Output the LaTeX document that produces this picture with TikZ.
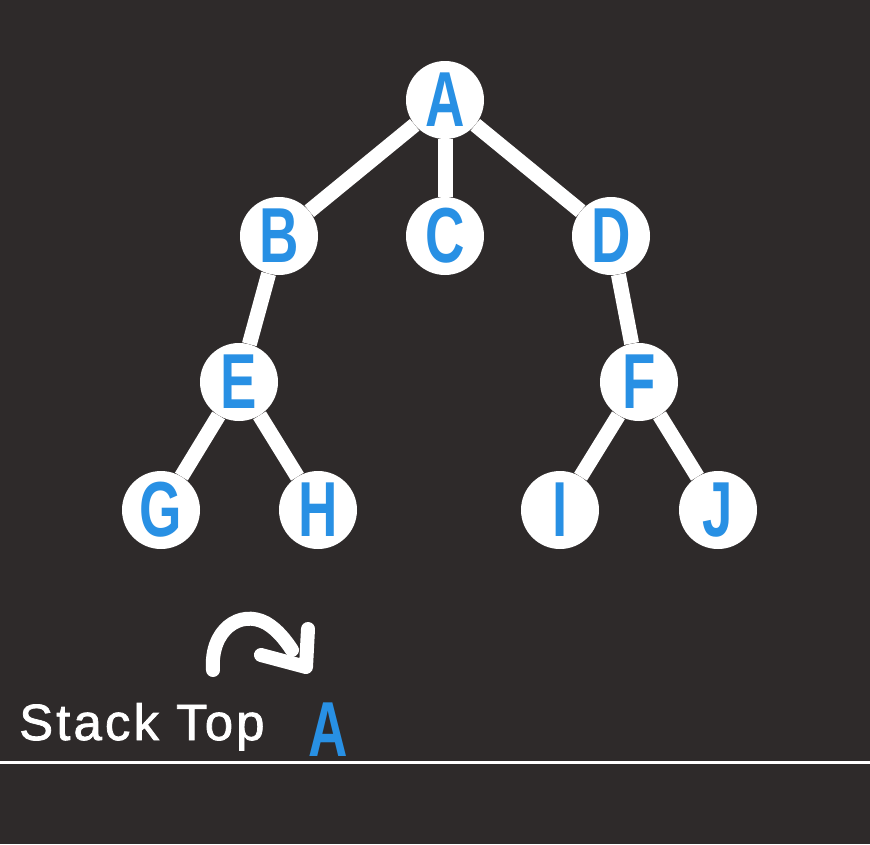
\documentclass[tikz,border=0pt]{standalone}
\usepackage{fontspec}
\newfontfamily\keyfont[FakeStretch=0.70,FakeBold=0]{Liberation Sans Bold}
\newfontfamily\capfont[LetterSpace=6,FakeBold=1.5]{Liberation Sans}
\definecolor{boardbg}{HTML}{2E2A2A}
\definecolor{keyblue}{HTML}{2890E4}

\begin{document}
\begin{tikzpicture}[x=1pt,y=1pt,yscale=-1,xscale=1,
    vertex/.style={circle,fill=white,minimum size=78pt,inner sep=0pt,
        text=keyblue,font=\keyfont\fontsize{78}{78}\selectfont},
    branch/.style={white,line width=15pt}]
        %Shape: Background
        \fill [boardbg] (0,0) rectangle (870,844);
        \useasboundingbox (0,0) rectangle (870,844);

        % Tree nodes
        \node [vertex] (A) at (445,100) {A};
        \node [vertex] (B) at (279,236) {B};
        \node [vertex] (C) at (445,236) {C};
        \node [vertex] (D) at (611,236) {D};
        \node [vertex] (E) at (239,382) {E};
        \node [vertex] (F) at (639,382) {F};
        \node [vertex] (G) at (161,510) {G};
        \node [vertex] (H) at (318,510) {H};
        \node [vertex] (I) at (560,510) {I};
        \node [vertex] (J) at (718,510) {J};

        % Branches
        \draw [branch] (A) -- (B);
        \draw [branch] (A) -- (C);
        \draw [branch] (A) -- (D);
        \draw [branch] (B) -- (E);
        \draw [branch] (D) -- (F);
        \draw [branch] (E) -- (G);
        \draw [branch] (E) -- (H);
        \draw [branch] (F) -- (I);
        \draw [branch] (F) -- (J);

        %Shape: Hand drawn arrow
        \draw [white,line width=14pt,line cap=round,line join=round] (213,670) .. controls (210,630) and (240,609) .. (266,623) .. controls (278,630) and (286,641) .. (292,650) ;
        \draw [white,line width=14pt,line cap=round,line join=round] (261,655) -- (306,667) -- (308,629) ;

        % Text Node
        \node [anchor=base west,inner sep=0pt,text=white,font=\capfont\fontsize{51}{51}\selectfont] (stacktop) at (19,740) {Stack Top};
        % Text Node
        \node [anchor=base west,inner sep=0pt,text=keyblue,font=\keyfont\fontsize{78}{78}\selectfont] (topkey) at (308,756) {A};

        %Straight Lines
        \coordinate (floorL) at (0,762);
        \coordinate (floorR) at (870,762);
        \draw [white,line width=3pt] (floorL) -- (floorR) ;
\end{tikzpicture}
\end{document}
